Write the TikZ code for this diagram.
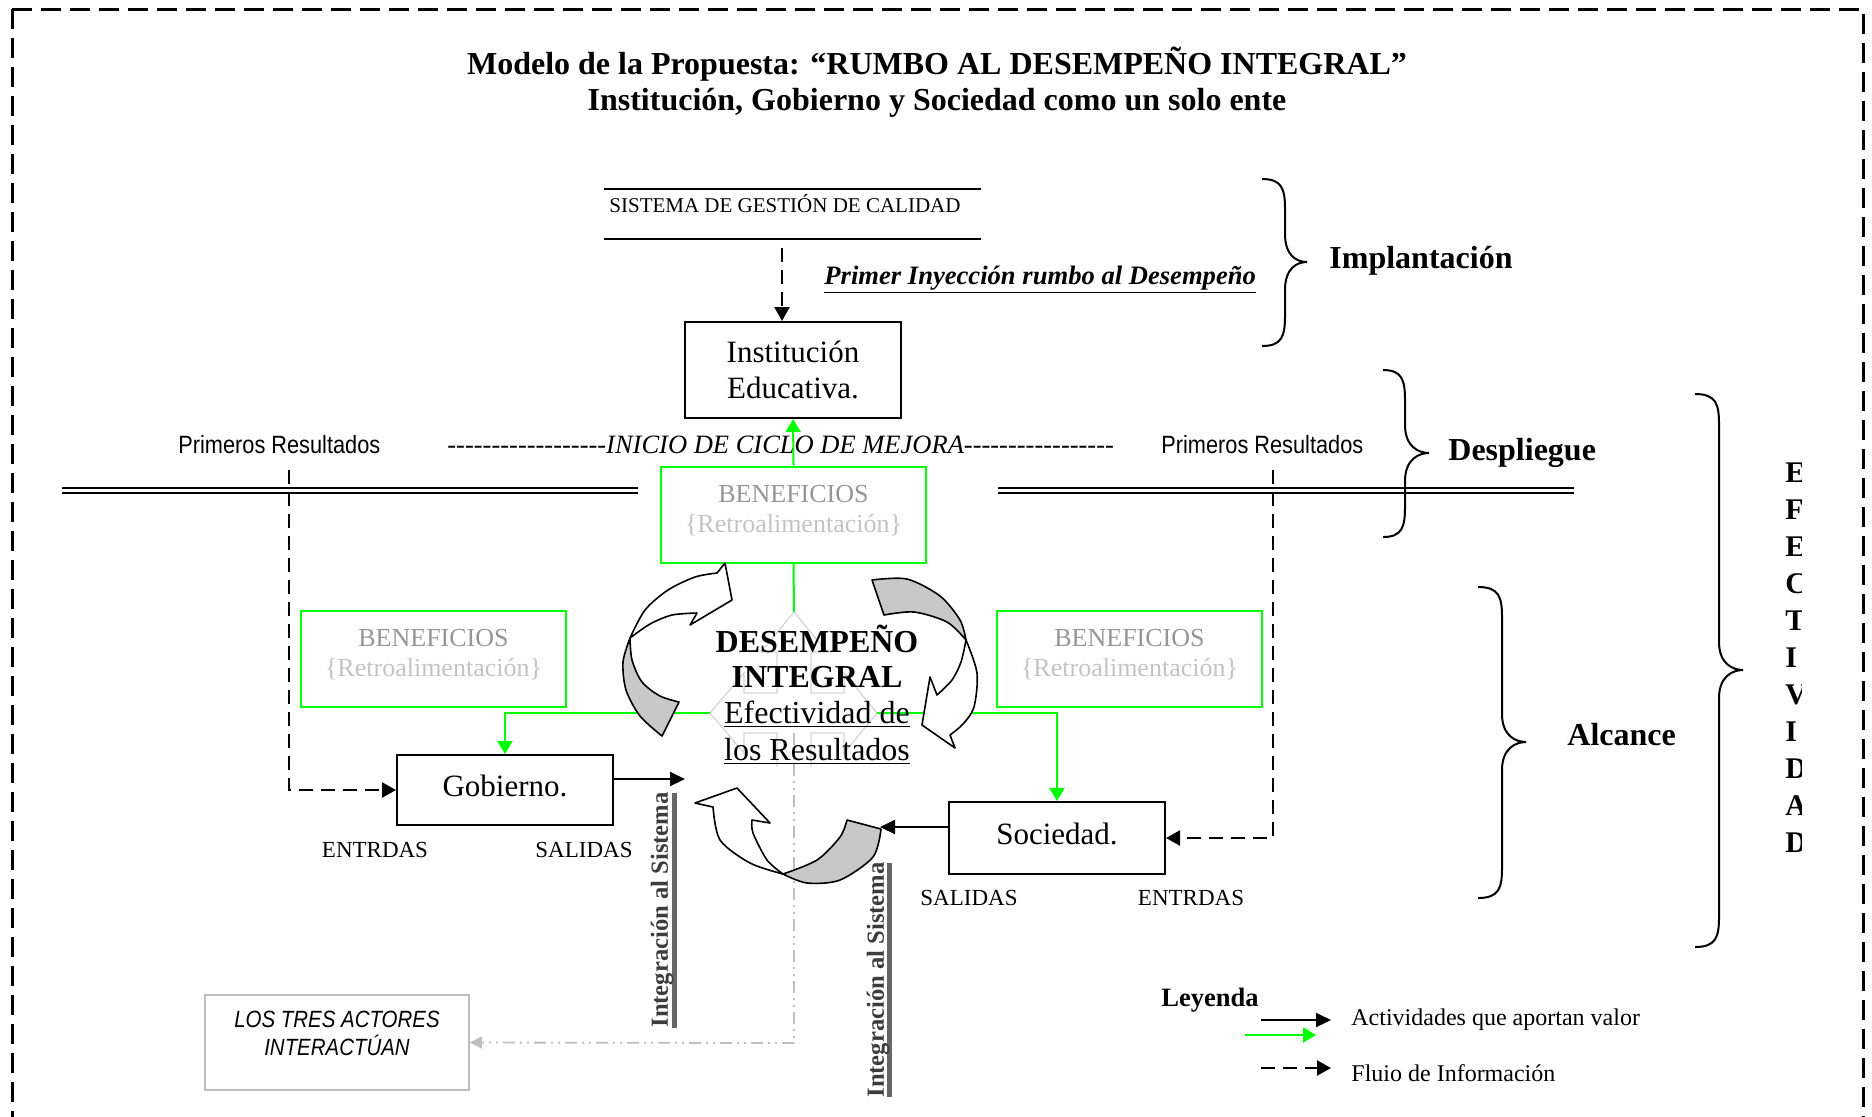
\documentclass[tikz,border=0pt]{standalone}
\usepackage{fontspec}
\setmainfont{Liberation Serif}
\newfontfamily\narrowsans[FakeStretch=0.87]{Liberation Sans}
\usetikzlibrary{arrows.meta}
\definecolor{grn}{RGB}{0,255,0}
\definecolor{benA}{RGB}{150,150,150}
\definecolor{benB}{RGB}{195,195,195}
\definecolor{rib}{RGB}{200,200,200}
\definecolor{faint}{RGB}{212,212,212}
\definecolor{ddot}{RGB}{190,190,190}
\definecolor{intg}{RGB}{60,60,60}
\newcommand\fsz[2]{\fontsize{#1}{#2}\selectfont}
\newcommand\hyphs[1]{\foreach \i in {1,...,#1}{-\kern0pt}}
\newcommand\mybrace[6]{\draw[bracestyle] (#1,#4) .. controls ({#2-3},#4) and (#2,{#4+10}) .. (#2,{#4+30}) -- (#2,{#5-28}) .. controls (#2,{#5-6}) and ({#3-10},#5) .. (#3,#5) .. controls ({#3-10},#5) and (#2,{#5+6}) .. (#2,{#5+28}) -- (#2,{#6-30}) .. controls (#2,{#6-10}) and ({#2-3},#6) .. (#1,#6);}
\begin{document}
\begin{tikzpicture}[x=0.5pt,y=-0.5pt,
  lbl/.style={inner sep=0pt, anchor=base},
  blk/.style={draw=black, line width=1pt, minimum width=108pt, inner sep=0pt, align=center, font=\fsz{15.5pt}{18pt}},
  gbox/.style={draw=grn, line width=1pt, minimum width=132.5pt, minimum height=48pt, inner sep=0pt, align=center, text=benA, text depth=6pt, font=\fsz{13pt}{15pt}},
  gline/.style={draw=grn, line width=1pt},
  garr/.style={gline, -{Triangle[length=6.5pt,width=7.5pt]}},
  darr/.style={draw=black, line width=1.1pt, dash pattern=on 7pt off 4pt, -{Triangle[length=7pt,width=7.5pt]}},
  barr/.style={draw=black, line width=1pt, -{Triangle[length=7.5pt,width=7pt]}},
  ribbon/.style={draw=black, line width=0.8pt, line join=round},
  bracestyle/.style={draw=black, line width=1pt},
  ddline/.style={draw=ddot, line width=0.9pt, dash pattern=on 6pt off 2.5pt on 1pt off 2.5pt on 1pt off 2.5pt, -{Triangle[length=6pt,width=6pt]}},
]
\useasboundingbox (0,0) rectangle (1872,1116);
\begin{scope}
\clip (0,0) rectangle (1872,1116);
\draw[line width=1.5pt, dash pattern=on 10pt off 4.5pt] (12,9) -- (12,1140);
\draw[line width=1.5pt, dash pattern=on 10pt off 4.5pt] (12,9) -- (1863,9) -- (1863,1140);
\end{scope}

% title
\node[lbl, font=\bfseries\fsz{16pt}{18pt}] (t1) at (937,74) {Modelo de la Propuesta: “RUMBO AL DESEMPEÑO INTEGRAL”};
\node[lbl, font=\bfseries\fsz{16pt}{18pt}] (t2) at (937,110) {Institución, Gobierno y Sociedad como un solo ente};

% sistema de gestion
\coordinate (s1a) at (604,189); \coordinate (s1b) at (981,189);
\coordinate (s2a) at (604,239); \coordinate (s2b) at (981,239);
\draw[line width=0.8pt] (s1a) -- (s1b);
\draw[line width=0.8pt] (s2a) -- (s2b);
\node[lbl, anchor=base west, font=\fsz{10.5pt}{12pt}] (sgc) at (609,212) {SISTEMA DE GESTIÓN DE CALIDAD};
\node[lbl, anchor=base west, font=\bfseries\itshape\fsz{13.3pt}{15pt}] (pri) at (824,284) {\underline{Primer Inyección rumbo al Desempeño}};

% boxes
\node[blk, minimum height=48pt] (inst) at (793,370) {Institución\\Educativa.};
\node[blk, minimum height=35pt, text depth=4pt] (gob) at (505,790) {Gobierno.};
\node[blk, minimum height=36pt, text depth=4pt] (soc) at (1057,838) {Sociedad.};
\node[gbox] (benT) at (793.5,514.5) {BENEFICIOS\\\textcolor{benB}{\{Retroalimentación\}}};
\node[gbox] (benL) at (433.5,659) {BENEFICIOS\\\textcolor{benB}{\{Retroalimentación\}}};
\node[gbox] (benR) at (1129.5,659) {BENEFICIOS\\\textcolor{benB}{\{Retroalimentación\}}};

\coordinate (sgcd) at (782,248);
\draw[darr] (sgcd) -- (inst.north -| sgcd);

% braces
\mybrace{1262}{1285}{1307}{179}{262}{346}
\mybrace{1383}{1405}{1429}{370}{453}{537}
\mybrace{1478}{1502}{1526}{587}{742}{898}
\mybrace{1695}{1719}{1743}{394}{670}{947}
\node[lbl, anchor=base west, font=\bfseries\fsz{16pt}{18pt}] (impl) at (1329,268) {Implantación};
\node[lbl, anchor=base west, font=\bfseries\fsz{16pt}{18pt}] (desp) at (1448,460) {Despliegue};
\node[lbl, anchor=base west, font=\bfseries\fsz{16pt}{18pt}] (alc) at (1567,745) {Alcance};
\begin{scope}
\clip (1700,380) rectangle (1801,900);
\node[anchor=north west, inner sep=0pt, align=left, font=\bfseries\fsz{15pt}{18.5pt}] (efec) at (1785,462) {E\\F\\E\\C\\T\\I\\V\\I\\D\\A\\D};
\end{scope}

% primeros resultados and inicio line
\node[lbl, anchor=base west, font=\narrowsans\fsz{12.5pt}{14pt}] (prL) at (178,453) {Primeros Resultados};
\node[lbl, anchor=base west, font=\narrowsans\fsz{12.5pt}{14pt}] (prR) at (1161,453) {Primeros Resultados};
\node[lbl, anchor=base west, font=\itshape\fsz{13.25pt}{15pt}] (ini) at (447,453) {\hyphs{18}INICIO DE CICLO DE MEJORA\hyphs{17}};

% double lines
\coordinate (dla1) at (62,488); \coordinate (dlb1) at (638,488);
\coordinate (dla2) at (62,493); \coordinate (dlb2) at (638,493);
\coordinate (dra1) at (998,488); \coordinate (drb1) at (1574,488);
\coordinate (dra2) at (998,493); \coordinate (drb2) at (1574,493);
\draw[line width=0.8pt] (dla1) -- (dlb1);
\draw[line width=1.1pt] (dla2) -- (dlb2);
\draw[line width=0.8pt] (dra1) -- (drb1);
\draw[line width=1.1pt] (dra2) -- (drb2);

% dashed information flows
\coordinate (dL) at (289,470);
\coordinate (dR) at (1273,470);
\draw[darr] (dL) |- (gob.west);
\draw[darr] (dR) |- (soc.east);

% faint quad arrow (lower arm hidden)
\coordinate (qC) at (794,713);
\coordinate (qT) at (794,612);
\coordinate (qL) at (710,713);
\coordinate (qR) at (877,713);
\begin{scope}
\clip (690,600) rectangle (900,766);
\draw[draw=faint, line width=0.6pt, shift={(794,713)}] (0,-101) -- (33,-61) -- (17,-61) -- (17,-20) -- (50,-20) -- (50,-40) -- (83,0) -- (50,40) -- (50,20) -- (17,20) -- (17,61) -- (33,61) -- (0,101) -- (-33,61) -- (-17,61) -- (-17,20) -- (-50,20) -- (-50,40) -- (-84,0) -- (-50,-40) -- (-50,-20) -- (-17,-20) -- (-17,-61) -- (-33,-61) -- cycle;
\end{scope}

% dash-dot line to los tres actores
\node[draw=ddot, line width=0.9pt, minimum width=132pt, minimum height=47.5pt, inner sep=0pt] (los) at (337,1042.5) {};
\node[inner sep=0pt, align=center, font=\narrowsans\itshape\fsz{11.75pt}{14pt}] (lostxt) at (337,1033) {LOS TRES ACTORES\\INTERACTÚAN};
\coordinate (dd1) at (794,733);
\coordinate (dd2) at (794,1043);
\draw[ddline] (dd1) -- (dd2) -- (los.east);

% green connectors
\draw[gline] (benT.south) -- (qT);
\draw[garr] (qL) -| (gob.north);
\draw[garr] (qR) -| (soc.north);

% black output arrows
\coordinate (gobOut) at (685,779);
\coordinate (socOut) at (880,827);
\draw[barr] (gob.east |- gobOut) -- (gobOut);
\draw[barr] (soc.west |- socOut) -- (socOut);

% labels under boxes
\node[lbl, font=\fsz{11.5pt}{13pt}] (entL) at (375,857) {ENTRDAS};
\node[lbl, font=\fsz{11.5pt}{13pt}] (salL) at (584,857) {SALIDAS};
\node[lbl, font=\fsz{11.5pt}{13pt}] (salR) at (969,905) {SALIDAS};
\node[lbl, font=\fsz{11.5pt}{13pt}] (entR) at (1191,905) {ENTRDAS};

% central text
\node[lbl, font=\bfseries\fsz{16pt}{18pt}] (d1) at (817,652) {DESEMPEÑO};
\node[lbl, font=\bfseries\fsz{16pt}{18pt}] (d2) at (817,687) {INTEGRAL};
\node[lbl, font=\fsz{16pt}{18pt}] (d3) at (817,723) {\underline{Efectividad de}};
\node[lbl, font=\fsz{16pt}{18pt}] (d4) at (817,760) {\underline{los Resultados}};

% ribbons: left
\filldraw[ribbon, fill=rib] plot[smooth] coordinates {(662,736) (640,716) (626,690) (623,662) (630,638)} -- plot[smooth] coordinates {(630,638) (632,660) (642,682) (660,696) (679,702)} -- cycle;
\filldraw[ribbon, fill=white] plot[smooth] coordinates {(630,638) (645,610) (668,590) (695,577) (717,573)} -- (725,563) -- (732,600) -- (690,625) -- (697,613) -- plot[smooth] coordinates {(697,613) (672,615) (650,624) (630,638)} -- cycle;
% right
\filldraw[ribbon, fill=rib] plot[smooth] coordinates {(872,580) (907,579) (940,596) (960,620) (966,640)} -- plot[smooth] coordinates {(966,640) (947,622) (914,612) (884,615)} -- cycle;
\filldraw[ribbon, fill=white] plot[smooth] coordinates {(966,640) (977,673) (974,707) (963,724) (950,735)} -- (955,748) -- (922,725) -- (930,677) -- (937,695) -- plot[smooth] coordinates {(937,695) (952,680) (961,662) (966,640)} -- cycle;
% bottom
\filldraw[ribbon, fill=rib] plot[smooth] coordinates {(847,820) (840,837) (817,860) (783,874)} -- plot[smooth] coordinates {(783,874) (807,883) (840,880) (873,857) (881,829)} -- cycle;
\filldraw[ribbon, fill=white] plot[smooth] coordinates {(783,874) (750,863) (720,840) (713,807)} -- (695,803) -- (737,788) -- (770,823) -- (752,820) -- plot[smooth] coordinates {(752,820) (753,833) (767,860) (783,874)} -- cycle;

% green arrow up to institution
\draw[garr] (benT.north) -- (inst.south);

% rotated integration labels
\fill[black!60] (672,793) rectangle (677,1028);
\node[rotate=90, inner sep=0pt, text=intg, font=\bfseries\fsz{12.3pt}{13pt}] (int1) at (662,910) {Integración al Sistema};
\fill[black!60] (887,863) rectangle (892,1097);
\node[rotate=90, inner sep=0pt, text=intg, font=\bfseries\fsz{12.3pt}{13pt}] (int2) at (878,980) {Integración al Sistema};

% legend
\node[lbl, anchor=base west, font=\bfseries\fsz{13.25pt}{15pt}] (ley) at (1161,1006) {Leyenda};
\coordinate (l1a) at (1261,1020); \coordinate (l1b) at (1331,1020);
\coordinate (l2a) at (1245,1035); \coordinate (l2b) at (1316,1035);
\coordinate (l3a) at (1261,1068); \coordinate (l3b) at (1331,1068);
\draw[barr] (l1a) -- (l1b);
\draw[garr] (l2a) -- (l2b);
\draw[darr] (l3a) -- (l3b);
\node[lbl, anchor=base west, font=\fsz{12pt}{14pt}] (act) at (1351,1025) {Actividades que aportan valor};
\node[lbl, anchor=base west, font=\fsz{12pt}{14pt}] (flu) at (1351,1081) {Fluio de Información};
\end{tikzpicture}
\end{document}
